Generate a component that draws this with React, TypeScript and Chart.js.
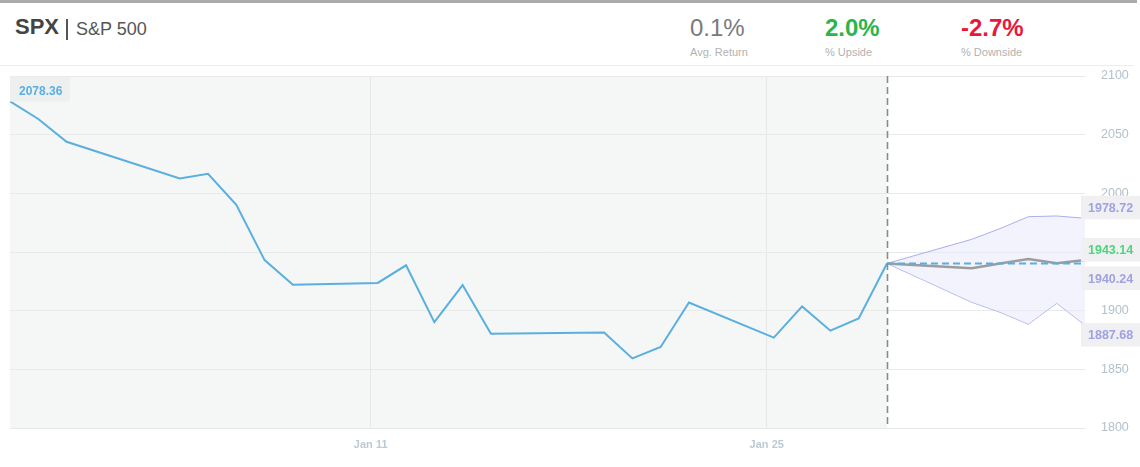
import React, { useEffect, useRef } from 'react';
import { Chart, registerables } from 'chart.js';

Chart.register(...registerables);

// ---------- data ----------
const HIST_DATES = [
  '2015-12-29', '2015-12-30', '2015-12-31', '2016-01-04', '2016-01-05', '2016-01-06',
  '2016-01-07', '2016-01-08', '2016-01-11', '2016-01-12', '2016-01-13', '2016-01-14',
  '2016-01-15', '2016-01-19', '2016-01-20', '2016-01-21', '2016-01-22', '2016-01-25',
  '2016-01-26', '2016-01-27', '2016-01-28', '2016-01-29',
];
const HIST_VALUES = [
  2078.36, 2063.36, 2043.94, 2012.66, 2016.71, 1990.26,
  1943.09, 1922.03, 1923.67, 1938.68, 1890.28, 1921.84,
  1880.33, 1881.33, 1859.33, 1868.99, 1906.9, 1877.08,
  1903.63, 1882.95, 1893.36, 1940.24,
];
const FC_DATES = ['2016-01-29', '2016-02-01', '2016-02-02', '2016-02-03', '2016-02-04', '2016-02-05'];
const FC_UPPER = [1940.24, 1960.8, 1970.0, 1980.1, 1980.7, 1978.72];
const FC_LOWER = [1940.24, 1907.1, 1898.6, 1888.4, 1906.3, 1887.68];
const FC_MEAN = [1940.24, 1936.1, 1940.2, 1944.0, 1940.4, 1943.14];
const X_TICK_DATES = ['2016-01-11', '2016-01-25'];
const Y_MIN = 1800;
const Y_MAX = 2100;
const Y_STEP = 50;

const TICKER = 'SPX';
const NAME = 'S&P 500';
const STAT_VALUES = ['0.1%', '2.0%', '-2.7%'];
const STAT_LABELS = ['Avg. Return', '% Upside', '% Downside'];

// ---------- helpers ----------
const MONTHS = ['Jan', 'Feb', 'Mar', 'Apr', 'May', 'Jun', 'Jul', 'Aug', 'Sep', 'Oct', 'Nov', 'Dec'];
const DATA_HOUR = 0.25; // data timestamps fall at 06:00, ticks at midnight
const dayNum = (s: string) => {
  const [y, m, d] = s.split('-').map(Number);
  return Date.UTC(y, m - 1, d) / 86400000;
};
const dayLabel = (v: number) => {
  const dt = new Date(Math.round(v) * 86400000);
  return `${MONTHS[dt.getUTCMonth()]} ${dt.getUTCDate()}`;
};
const pts = (dates: string[], vals: number[]) =>
  dates.map((d, i) => ({ x: dayNum(d) + DATA_HOUR, y: vals[i] }));

const FONT = '"Liberation Sans", Arial, Helvetica, sans-serif';
const BLUE = '#5aafdf';
const BAND = '#a9aeee';
const LAVENDER_TEXT = '#9ea2e2';
const GREEN_TEXT = '#4fd47e';

const overlayPlugin = {
  id: 'overlay',
  beforeDraw(chart: any) {
    const { ctx, chartArea: a, scales } = chart;
    const splitX = scales.x.getPixelForValue(dayNum(HIST_DATES[HIST_DATES.length - 1]) + DATA_HOUR);
    ctx.save();
    ctx.fillStyle = '#f5f7f7';
    ctx.fillRect(a.left, a.top, splitX - a.left, a.bottom - a.top);
    ctx.restore();
  },
  afterDatasetsDraw(chart: any) {
    const { ctx, chartArea: a, scales } = chart;
    const splitX = Math.round(scales.x.getPixelForValue(dayNum(HIST_DATES[HIST_DATES.length - 1]) + DATA_HOUR)) + 0.5;
    ctx.save();
    ctx.strokeStyle = '#8a8a8a';
    ctx.lineWidth = 1.6;
    ctx.setLineDash([7, 4]);
    ctx.beginPath();
    ctx.moveTo(splitX, a.top);
    ctx.lineTo(splitX, a.bottom);
    ctx.stroke();
    ctx.restore();
  },
  afterDraw(chart: any) {
    const { ctx, chartArea: a, scales, width } = chart;
    const y = scales.y;
    ctx.save();
    ctx.font = `bold 12.5px ${FONT}`;
    ctx.textBaseline = 'middle';
    ctx.textAlign = 'left';
    const boxH = 23.5;
    const boxL = a.right - 4;
    const drawBox = (top: number, text: string, color: string) => {
      ctx.fillStyle = '#f0f0f2';
      ctx.fillRect(boxL, top, width - boxL, boxH);
      ctx.fillStyle = color;
      ctx.fillText(text, boxL + 7, top + boxH / 2 + 1);
    };
    const up = FC_UPPER[FC_UPPER.length - 1];
    const mean = FC_MEAN[FC_MEAN.length - 1];
    const cur = HIST_VALUES[HIST_VALUES.length - 1];
    const low = FC_LOWER[FC_LOWER.length - 1];
    drawBox(y.getPixelForValue(up) - boxH + 1, up.toFixed(2), LAVENDER_TEXT);
    drawBox(y.getPixelForValue(mean) - boxH + 1.5, mean.toFixed(2), GREEN_TEXT);
    drawBox(y.getPixelForValue(cur) + 3, cur.toFixed(2), LAVENDER_TEXT);
    drawBox(y.getPixelForValue(low) - 2, low.toFixed(2), LAVENDER_TEXT);

    // first-value label, top-left
    const first = HIST_VALUES[0];
    ctx.fillStyle = '#eef0f0';
    ctx.fillRect(a.left, a.top + 0.5, 60, 25);
    ctx.font = `bold 12px ${FONT}`;
    ctx.fillStyle = BLUE;
    ctx.fillText(first.toFixed(2), a.left + 9, a.top + 15.5);
    ctx.restore();
  },
};

function ChartCanvas() {
  const ref = useRef<HTMLCanvasElement>(null);
  useEffect(() => {
    if (!ref.current) return;
    const cur = HIST_VALUES[HIST_VALUES.length - 1];
    const chart = new Chart(ref.current, {
      type: 'line',
      data: {
        datasets: [
          {
            label: 'history',
            data: pts(HIST_DATES, HIST_VALUES),
            borderColor: BLUE,
            borderWidth: 2,
            pointRadius: 0,
            tension: 0,
            fill: false,
          },
          {
            label: 'current',
            data: [
              { x: dayNum(FC_DATES[0]) + DATA_HOUR, y: cur },
              { x: dayNum(FC_DATES[FC_DATES.length - 1]) + DATA_HOUR, y: cur },
            ],
            borderColor: BLUE,
            borderWidth: 2,
            borderDash: [7, 4],
            pointRadius: 0,
            fill: false,
          },
          {
            label: 'mean',
            data: pts(FC_DATES, FC_MEAN),
            borderColor: '#9c9c9c',
            borderWidth: 2.5,
            pointRadius: 0,
            tension: 0,
            fill: false,
          },
          {
            label: 'upper',
            data: pts(FC_DATES, FC_UPPER),
            borderColor: BAND,
            borderWidth: 1,
            pointRadius: 0,
            tension: 0,
            fill: '+1',
            backgroundColor: 'rgba(232,234,250,0.55)',
          },
          {
            label: 'lower',
            data: pts(FC_DATES, FC_LOWER),
            borderColor: BAND,
            borderWidth: 1,
            pointRadius: 0,
            tension: 0,
            fill: false,
          },
        ],
      },
      options: {
        responsive: false,
        animation: false,
        layout: { padding: { left: 10, top: 10, right: 0, bottom: 0 } },
        plugins: { legend: { display: false }, tooltip: { enabled: false } },
        scales: {
          x: {
            type: 'linear',
            min: dayNum(HIST_DATES[0]) + DATA_HOUR,
            max: dayNum(FC_DATES[FC_DATES.length - 1]) + DATA_HOUR,
            afterBuildTicks: (s: any) => {
              s.ticks = X_TICK_DATES.map((d) => ({ value: dayNum(d) }));
            },
            afterFit: (s: any) => {
              s.height = 39;
              s.paddingLeft = 0;
              s.paddingRight = 0;
            },
            ticks: {
              autoSkip: false,
              maxRotation: 0,
              padding: 10,
              color: '#bccad4',
              font: { family: FONT, size: 11, weight: 'bold' },
              callback: (v: any) => dayLabel(Number(v)),
            },
            grid: { color: '#e6e8e8', drawTicks: false },
            border: { display: false },
          },
          y: {
            position: 'right',
            min: Y_MIN,
            max: Y_MAX,
            afterFit: (s: any) => {
              s.width = 55;
              s.paddingTop = 0;
              s.paddingBottom = 0;
            },
            ticks: {
              stepSize: Y_STEP,
              padding: 16,
              color: '#b3c1ca',
              font: { family: FONT, size: 12.5 },
              callback: (v: any) => String(v),
            },
            grid: { color: '#e8eaea', drawTicks: false },
            border: { display: false },
          },
        },
      },
      plugins: [overlayPlugin],
    } as any);
    return () => chart.destroy();
  }, []);
  return <canvas ref={ref} width={1140} height={401} style={{ display: 'block' }} />;
}

export default function App() {
  const statX = [690, 825, 961];
  const statColors = ['#7a7a7a', '#2bb54b', '#e8173b'];
  const statWeights = [300, 700, 700];
  return (
    <div
      style={{
        position: 'fixed',
        left: 0,
        top: 0,
        width: 1140,
        height: 467,
        background: '#fff',
        fontFamily: FONT,
        overflow: 'hidden',
      }}
    >
      <div style={{ position: 'absolute', left: 0, top: 0, width: 1137, height: 3, background: '#ababab' }} />
      <div
        style={{
          position: 'absolute',
          left: 15,
          top: 12,
          fontSize: 22,
          fontWeight: 700,
          color: '#444',
          lineHeight: '30px',
          whiteSpace: 'nowrap',
        }}
      >
        {TICKER}
      </div>
      <div style={{ position: 'absolute', left: 66, top: 19, width: 2, height: 21, background: '#555' }} />
      <div
        style={{
          position: 'absolute',
          left: 76,
          top: 16,
          fontSize: 18,
          color: '#555',
          lineHeight: '26px',
          whiteSpace: 'nowrap',
        }}
      >
        {NAME}
      </div>
      {STAT_VALUES.map((v, i) => (
        <React.Fragment key={i}>
          <div
            style={{
              position: 'absolute',
              left: statX[i],
              top: 12,
              fontSize: 24,
              fontWeight: statWeights[i],
              color: statColors[i],
              lineHeight: '32px',
              whiteSpace: 'nowrap',
            }}
          >
            {v}
          </div>
          <div
            style={{
              position: 'absolute',
              left: statX[i],
              top: 45,
              fontSize: 11,
              color: '#b2b2b2',
              lineHeight: '14px',
              whiteSpace: 'nowrap',
            }}
          >
            {STAT_LABELS[i]}
          </div>
        </React.Fragment>
      ))}
      <div style={{ position: 'absolute', left: 0, top: 65, width: 1134, height: 1, background: '#ececec' }} />
      <div style={{ position: 'absolute', left: 0, top: 66 }}>
        <ChartCanvas />
      </div>
    </div>
  );
}
